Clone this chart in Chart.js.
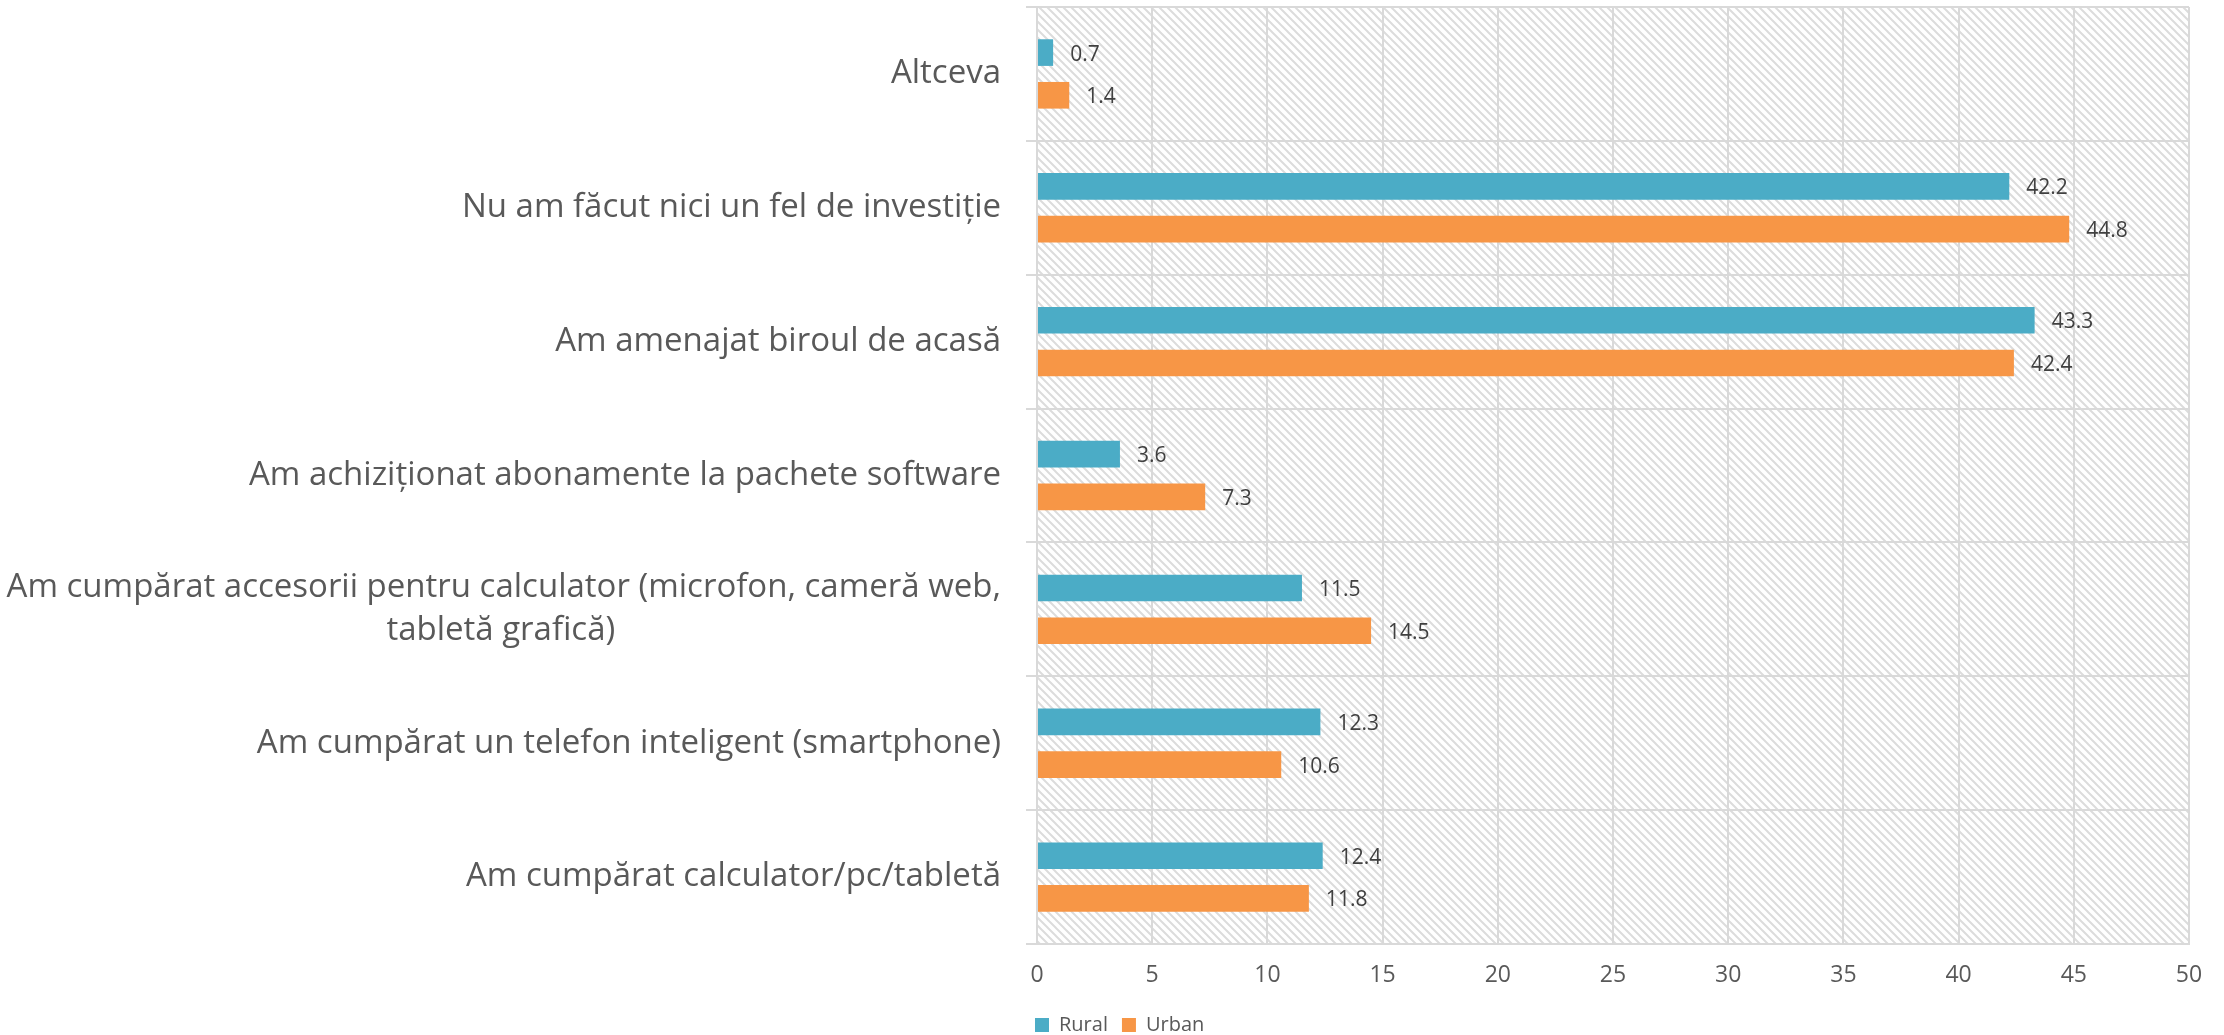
<!DOCTYPE html>
<html>
<head>
<meta charset="utf-8">
<script src="https://cdn.jsdelivr.net/npm/chart.js@4.4.1/dist/chart.umd.min.js"></script>
<style>
  html, body { margin: 0; padding: 0; background: #ffffff; }
  #wrap { width: 2224px; height: 1035px; }
</style>
</head>
<body>
<div id="wrap"><canvas id="chart" width="2224" height="1035"></canvas></div>
<script>
// categorii (de sus in jos)
const categories = [
  'Altceva',
  'Nu am făcut nici un fel de investiție',
  'Am amenajat biroul de acasă',
  'Am achiziționat abonamente la pachete software',
  ['Am cumpărat accesorii pentru calculator (microfon, cameră web,', 'tabletă grafică)'],
  'Am cumpărat un telefon inteligent (smartphone)',
  'Am cumpărat calculator/pc/tabletă'
];
const ruralValues = [0.7, 42.2, 43.3, 3.6, 11.5, 12.3, 12.4];
const urbanValues = [1.4, 44.8, 42.4, 7.3, 14.5, 10.6, 11.8];
const xTicks = [0, 5, 10, 15, 20, 25, 30, 35, 40, 45, 50];

const FONT = '"Open Sans", "Noto Sans", sans-serif';
const LABEL_SIZE = 33;
const GRID = '#d9d9d9';
const TEXT = '#595959';

// centreaza a doua linie a etichetei pe doua randuri (aliniere la dreapta in Chart.js)
const measureCtx = document.createElement('canvas').getContext('2d');
measureCtx.font = LABEL_SIZE + 'px ' + FONT;
function centerLines(label) {
  if (!Array.isArray(label)) return label;
  const widest = Math.max(...label.map(l => measureCtx.measureText(l).width));
  const nb = measureCtx.measureText('\u00a0').width;
  return label.map(l => {
    const n = Math.round((widest - measureCtx.measureText(l).width) / 2 / nb);
    return l + '\u00a0'.repeat(n);
  });
}

// fundal hasurat in zona graficului
const hatchBackground = {
  id: 'hatchBackground',
  beforeDraw(chart) {
    const { ctx, chartArea: a } = chart;
    const s = 8;
    const tile = document.createElement('canvas');
    tile.width = s;
    tile.height = s;
    const t = tile.getContext('2d');
    t.strokeStyle = '#dcdcdc';
    t.lineWidth = 2;
    t.beginPath();
    t.moveTo(-1, -1); t.lineTo(s + 1, s + 1);
    t.moveTo(-1, s - 1); t.lineTo(1, s + 1);
    t.moveTo(s - 1, -1); t.lineTo(s + 1, 1);
    t.stroke();
    ctx.save();
    ctx.fillStyle = ctx.createPattern(tile, 'repeat');
    ctx.fillRect(a.left, a.top, a.right - a.left, a.bottom - a.top);
    ctx.restore();
  }
};

// valorile scrise dupa capatul barelor
const valueLabels = {
  id: 'valueLabels',
  afterDatasetsDraw(chart) {
    const ctx = chart.ctx;
    ctx.save();
    ctx.font = '21px ' + FONT;
    ctx.fillStyle = '#404040';
    ctx.textAlign = 'left';
    ctx.textBaseline = 'middle';
    chart.data.datasets.forEach((ds, i) => {
      chart.getDatasetMeta(i).data.forEach((bar, j) => {
        ctx.fillText(ds.data[j].toFixed(1), bar.x + 17, bar.y + 2);
      });
    });
    ctx.restore();
  }
};

// legenda sub axa, aliniata cu inceputul zonei graficului
const legendPlacement = {
  id: 'legendPlacement',
  afterLayout(chart) {
    const lg = chart.legend;
    if (!lg) return;
    const pad = lg.options.labels.padding;
    const w = lg.right - lg.left;
    lg.left = chart.chartArea.left - pad - 2;
    lg.right = lg.left + w;
    lg.top = chart.height - 34;
    lg.bottom = lg.top + lg.height;
  }
};

new Chart(document.getElementById('chart'), {
  type: 'bar',
  data: {
    labels: categories,
    datasets: [
      {
        label: 'Rural',
        data: ruralValues,
        backgroundColor: '#4bacc6',
        categoryPercentage: 0.638,
        barPercentage: 0.624
      },
      {
        label: 'Urban',
        data: urbanValues,
        backgroundColor: '#f79646',
        categoryPercentage: 0.638,
        barPercentage: 0.624
      }
    ]
  },
  options: {
    indexAxis: 'y',
    responsive: false,
    animation: false,
    layout: { padding: { top: 7, right: 35, left: 0, bottom: 0 } },
    scales: {
      x: {
        min: 0,
        max: 50,
        afterBuildTicks: (scale) => { scale.ticks = xTicks.map(v => ({ value: v })); },
        afterFit: (scale) => { scale.height = 47; scale.paddingRight = 0; },
        grid: { color: GRID, lineWidth: 2, drawTicks: false },
        border: { display: true, color: GRID, width: 2 },
        ticks: {
          color: TEXT,
          padding: 18,
          font: { family: FONT, size: 23 }
        }
      },
      y: {
        afterFit: (scale) => {
          scale.width = 1037;
          scale.paddingTop = 0;
          scale.paddingBottom = 0;
        },
        grid: { color: GRID, lineWidth: 2, offset: true, drawTicks: true, tickLength: 11 },
        border: { display: true, color: GRID, width: 2 },
        ticks: {
          color: TEXT,
          padding: 25,
          font: { family: FONT, size: LABEL_SIZE, lineHeight: 1.3 },
          callback: function (value, index) { return centerLines(categories[index]); }
        }
      }
    },
    plugins: {
      tooltip: { enabled: false },
      legend: {
        position: 'bottom',
        align: 'start',
        fullSize: false,
        labels: {
          color: TEXT,
          boxWidth: 14,
          boxHeight: 14,
          padding: 14,
          font: { family: FONT, size: 20 }
        }
      }
    }
  },
  plugins: [hatchBackground, valueLabels, legendPlacement]
});
</script>
</body>
</html>
